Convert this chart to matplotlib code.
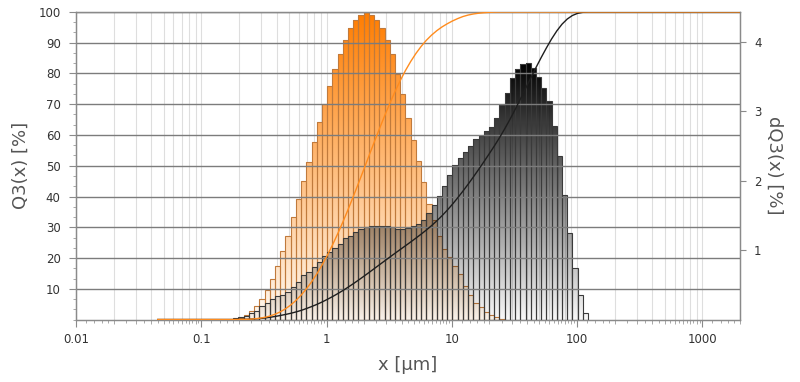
import numpy as np
import matplotlib
matplotlib.use("Agg")
import matplotlib.pyplot as plt
from matplotlib.colors import LinearSegmentedColormap
from matplotlib.path import Path
from matplotlib.ticker import LogLocator, MultipleLocator, NullFormatter, NullLocator, FuncFormatter

plt.rcParams['font.family'] = ['DejaVu Sans']

# class grid: first edge and number of classes per decade
bin_start = 0.18
bins_per_decade = 24

# dQ3 per class [%]
dq3_orange = [0.01, 0.02, 0.06, 0.12, 0.19, 0.29, 0.42, 0.58, 0.77, 0.99,
              1.21, 1.47, 1.73, 1.99, 2.27, 2.56, 2.84, 3.11, 3.37, 3.61,
              3.83, 4.03, 4.20, 4.31, 4.39, 4.43, 4.39, 4.31, 4.20, 4.03,
              3.83, 3.54, 3.25, 2.90, 2.59, 2.28, 1.98, 1.67, 1.43, 1.21,
              1.02, 0.90, 0.77, 0.66, 0.48, 0.35, 0.24, 0.18, 0.11, 0.07,
              0.03, 0.01]
dq3_black = [0.02, 0.04, 0.05, 0.09, 0.12, 0.19, 0.24, 0.30, 0.34, 0.36,
             0.40, 0.47, 0.54, 0.64, 0.69, 0.75, 0.83, 0.91, 0.97, 1.03,
             1.09, 1.17, 1.21, 1.26, 1.30, 1.33, 1.34, 1.35, 1.35, 1.34,
             1.33, 1.31, 1.30, 1.32, 1.34, 1.38, 1.44, 1.53, 1.65, 1.78,
             1.93, 2.08, 2.22, 2.32, 2.42, 2.50, 2.60, 2.65, 2.72, 2.77,
             2.90, 3.09, 3.27, 3.48, 3.61, 3.68, 3.69, 3.62, 3.50, 3.34,
             3.15, 2.79, 2.35, 1.79, 1.24, 0.74, 0.36, 0.10]

q3_start = 0.045
x_min, x_max = 0.01, 2000
dq_top = 4.43
x_ticks = [0.01, 0.1, 1, 10, 100, 1000]

edges = bin_start * 10 ** (np.arange(len(dq3_black) + 1) / bins_per_decade)

fig = plt.figure(figsize=(8, 3.82), dpi=100)
ax = fig.add_axes([0.095, 0.1636, 0.83, 0.805])
ax2 = ax.twinx()

ax.set_xscale('log')


def gradient_bars(a, heights, edgecolor, cmap, z):
    n = len(heights)
    bars = a.bar(edges[:n], heights, width=np.diff(edges[:n + 1]), align='edge',
                 facecolor='none', edgecolor=edgecolor, linewidth=0.8, zorder=z + 1)
    path = Path.make_compound_path(
        *[b.get_path().transformed(b.get_patch_transform()) for b in bars])
    grad = np.linspace(0, 1, 256).reshape(-1, 1)
    im = a.imshow(grad, cmap=cmap, origin='lower', aspect='auto',
                  extent=(0, 1, 0, max(heights) / dq_top),
                  transform=a.transAxes, zorder=z, interpolation='bilinear')
    im.set_clip_path(path, transform=a.transData)


orange_cmap = LinearSegmentedColormap.from_list('o', ['#fffaf3', '#ff7d00'])
black_cmap = LinearSegmentedColormap.from_list('k', [(0, 0, 0, 0.03), (0, 0, 0, 1)])

gradient_bars(ax, dq3_orange, '#c07a3c', orange_cmap, 2)
gradient_bars(ax, dq3_black, '#3a3a3a', black_cmap, 4)


def q3_curve(dq):
    q = np.cumsum(dq) / np.sum(dq) * 100
    x = np.concatenate([[q3_start], edges[:len(dq) + 1], [x_max]])
    y = np.concatenate([[0, 0], q, [100]])
    return x, y


xo, yo = q3_curve(dq3_orange)
xb, yb = q3_curve(dq3_black)
ax2.plot(xb, yb, color='#1e1e1e', lw=1.0, zorder=3)
ax2.plot(xo, yo, color='#ff8c1e', lw=1.0, zorder=4)

# axes
ax.set_xlim(x_min, x_max)
ax.set_ylim(0, dq_top)
ax2.set_ylim(0, 100)

ax.xaxis.set_major_locator(LogLocator(base=10, numticks=20))
ax.xaxis.set_major_formatter(FuncFormatter(lambda v, _: f'{v:g}'))
ax.xaxis.set_minor_locator(LogLocator(base=10, subs=np.arange(2, 10), numticks=20))
ax.xaxis.set_minor_formatter(NullFormatter())
ax.set_xticks(x_ticks)
ax.set_xlim(x_min, x_max)
ax.grid(axis='x', which='both', color='#dedede', lw=0.8)
ax.set_axisbelow(True)

sec = ax.secondary_xaxis('bottom')
sec.spines['bottom'].set_visible(False)
sec.xaxis.set_major_locator(NullLocator())
sec.xaxis.set_minor_locator(LogLocator(base=10, subs=[1.2, 1.4, 1.6, 1.8, 2.5, 3.5, 4.5, 5.5, 6.5, 7.5, 8.5, 9.5], numticks=20))
sec.xaxis.set_minor_formatter(NullFormatter())
sec.tick_params(which='minor', length=2, color='#9a9a9a', width=0.6)

ax.yaxis.tick_right()
ax.yaxis.set_label_position('right')
ax.set_yticks([1, 2, 3, 4])
ax2.yaxis.tick_left()
ax2.yaxis.set_label_position('left')
ax2.set_yticks(range(10, 101, 10))
ax2.yaxis.set_minor_locator(MultipleLocator(10 / 3))
ax2.grid(axis='y', which='major', color='#7c7c7c', lw=1.0)

for a in (ax, ax2):
    for s in a.spines.values():
        s.set_color('#8a8a8a')
        s.set_linewidth(0.9)

ax.tick_params(axis='x', which='major', length=5, color='#8a8a8a', labelsize=8.5,
               labelcolor='#333333', pad=5)
ax.tick_params(axis='x', which='minor', length=3, color='#9a9a9a', width=0.6)
ax.tick_params(axis='y', length=4, color='#8a8a8a', labelsize=8.5,
               labelcolor='#333333', pad=6)
ax2.tick_params(axis='y', which='major', length=5, color='#8a8a8a', labelsize=8.5,
                labelcolor='#333333', pad=6)
ax2.tick_params(axis='y', which='minor', length=2.5, color='#9a9a9a', width=0.6)

ax.set_xlabel('x [µm]', fontsize=13, color='#555555', labelpad=7)
ax.set_ylabel('dQ3(x) [%]', fontsize=13, color='#555555', rotation=270, labelpad=16)
ax2.set_ylabel('Q3(x) [%]', fontsize=13, color='#555555', labelpad=6)

fig.savefig('out.png', dpi=100)
